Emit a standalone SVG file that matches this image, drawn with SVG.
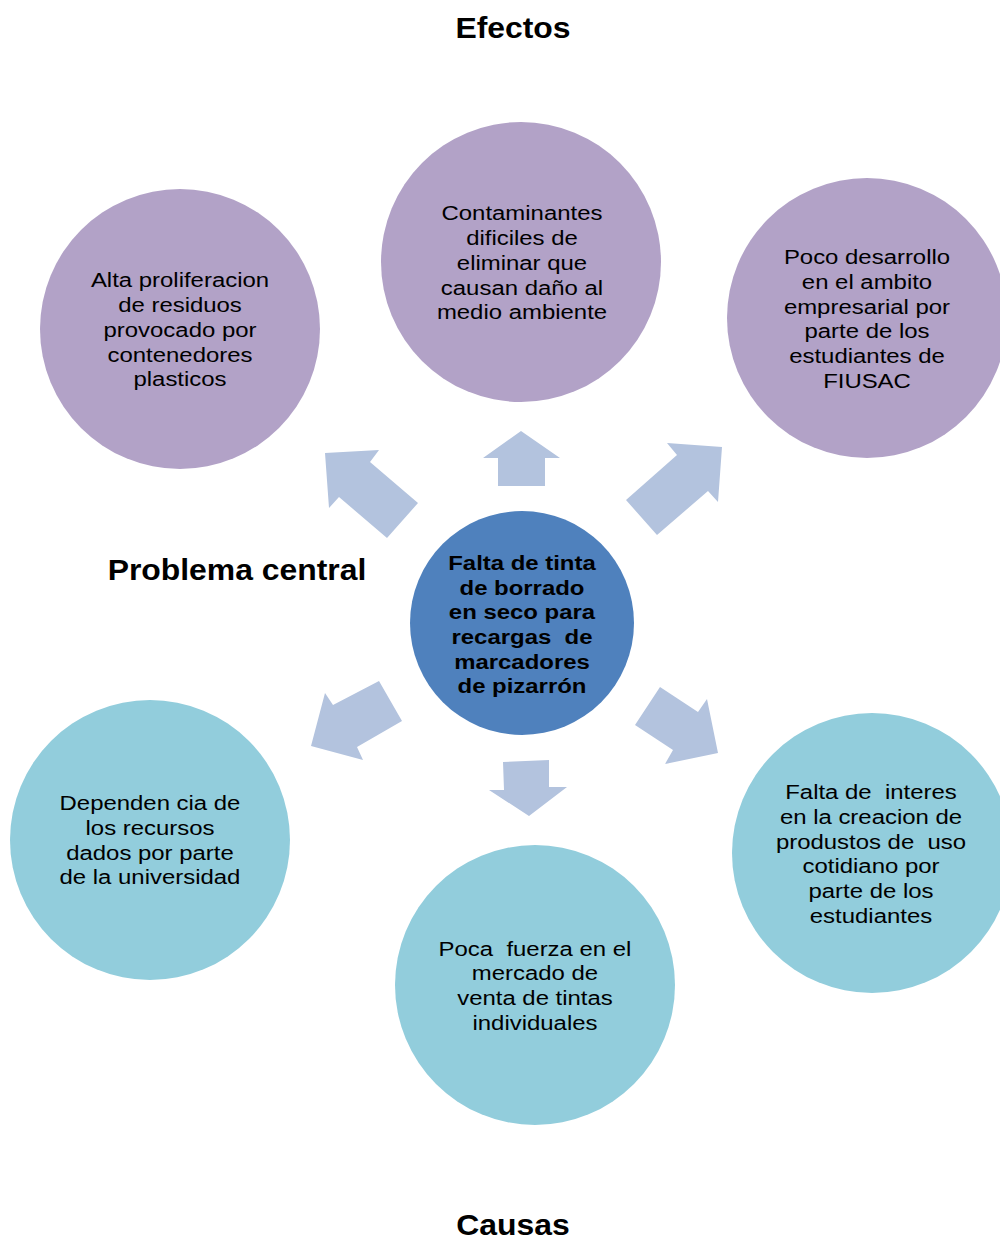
<svg xmlns="http://www.w3.org/2000/svg" width="1000" height="1239" viewBox="0 0 1000 1239">
<style>
.t{font-family:"Liberation Sans",Arial,sans-serif;font-size:21px;fill:#000;text-anchor:middle;white-space:pre}
.b{font-weight:bold}
.h{font-family:"Liberation Sans",Arial,sans-serif;font-size:29px;font-weight:bold;fill:#000;text-anchor:middle}
.e{fill:#B2A2C7}
.c{fill:#92CDDC}
.a{fill:#B3C3DE}
</style>
<rect width="1000" height="1239" fill="#fff"/>
<text class="h" x="513" y="38" transform="matrix(1.1,0,0,1,-51.3,0)">Efectos</text>
<text class="h" x="237" y="580" transform="matrix(1.1,0,0,1,-23.7,0)">Problema central</text>
<text class="h" x="513" y="1235" transform="matrix(1.1,0,0,1,-51.3,0)">Causas</text>
<g id="connectors">
<polygon class="a" points="521,431 560,458 545,458 545,486 498,486 498,458 483,458"/>
<polygon class="a" points="325,453 379,450 370,462 418,503 387,538 339,497 329,508"/>
<polygon class="a" points="722,447 718,502 708,491 657,535 626,500 677,455 667,443"/>
<polygon class="a" points="311,746 363,760 357,747 402,721 379,681 333,705 325,693"/>
<polygon class="a" points="503,762 549,760 549,787 567,787 529,816 489,790 504,790"/>
<polygon class="a" points="660,687 698,712 707,699 718,753 665,764 673,750 635,725"/>
</g>
<g id="effect1">
<circle class="e" cx="180" cy="329" r="140"/>
<g transform="matrix(1.14,0,0,1,-25.2,0)">
<text class="t" x="180" y="287">Alta proliferacion</text>
<text class="t" x="180" y="312">de residuos</text>
<text class="t" x="180" y="337">provocado por</text>
<text class="t" x="180" y="362">contenedores</text>
<text class="t" x="180" y="386">plasticos</text>
</g>
</g>
<g id="effect2">
<circle class="e" cx="521" cy="262" r="140"/>
<g transform="matrix(1.14,0,0,1,-73.08,0)">
<text class="t" x="522" y="220">Contaminantes</text>
<text class="t" x="522" y="245">dificiles de</text>
<text class="t" x="522" y="270">eliminar que</text>
<text class="t" x="522" y="295">causan daño al</text>
<text class="t" x="522" y="319">medio ambiente</text>
</g>
</g>
<g id="effect3">
<circle class="e" cx="867" cy="318" r="140"/>
<g transform="matrix(1.14,0,0,1,-121.38,0)">
<text class="t" x="867" y="264">Poco desarrollo</text>
<text class="t" x="867" y="289">en el ambito</text>
<text class="t" x="867" y="314">empresarial por</text>
<text class="t" x="867" y="338">parte de los</text>
<text class="t" x="867" y="363">estudiantes de</text>
<text class="t" x="867" y="388">FIUSAC</text>
</g>
</g>
<g id="central">
<circle cx="522" cy="623" r="112" fill="#4F81BD"/>
<g transform="matrix(1.14,0,0,1,-73.08,0)">
<text class="t b" x="522" y="570">Falta de tinta</text>
<text class="t b" x="522" y="595">de borrado</text>
<text class="t b" x="522" y="619">en seco para</text>
<text class="t b" x="522" y="644">recargas  de</text>
<text class="t b" x="522" y="669">marcadores</text>
<text class="t b" x="522" y="693">de pizarrón</text>
</g>
</g>
<g id="cause1">
<circle class="c" cx="150" cy="840" r="140"/>
<g transform="matrix(1.14,0,0,1,-21,0)">
<text class="t" x="150" y="810">Dependen cia de</text>
<text class="t" x="150" y="835">los recursos</text>
<text class="t" x="150" y="860">dados por parte</text>
<text class="t" x="150" y="884">de la universidad</text>
</g>
</g>
<g id="cause2">
<circle class="c" cx="535" cy="985" r="140"/>
<g transform="matrix(1.14,0,0,1,-74.9,0)">
<text class="t" x="535" y="956">Poca  fuerza en el</text>
<text class="t" x="535" y="980">mercado de</text>
<text class="t" x="535" y="1005">venta de tintas</text>
<text class="t" x="535" y="1030">individuales</text>
</g>
</g>
<g id="cause3">
<circle class="c" cx="872" cy="853" r="140"/>
<g transform="matrix(1.14,0,0,1,-121.94,0)">
<text class="t" x="871" y="799">Falta de  interes</text>
<text class="t" x="871" y="824">en la creacion de</text>
<text class="t" x="871" y="849">produstos de  uso</text>
<text class="t" x="871" y="873">cotidiano por</text>
<text class="t" x="871" y="898">parte de los</text>
<text class="t" x="871" y="923">estudiantes</text>
</g>
</g>
</svg>
